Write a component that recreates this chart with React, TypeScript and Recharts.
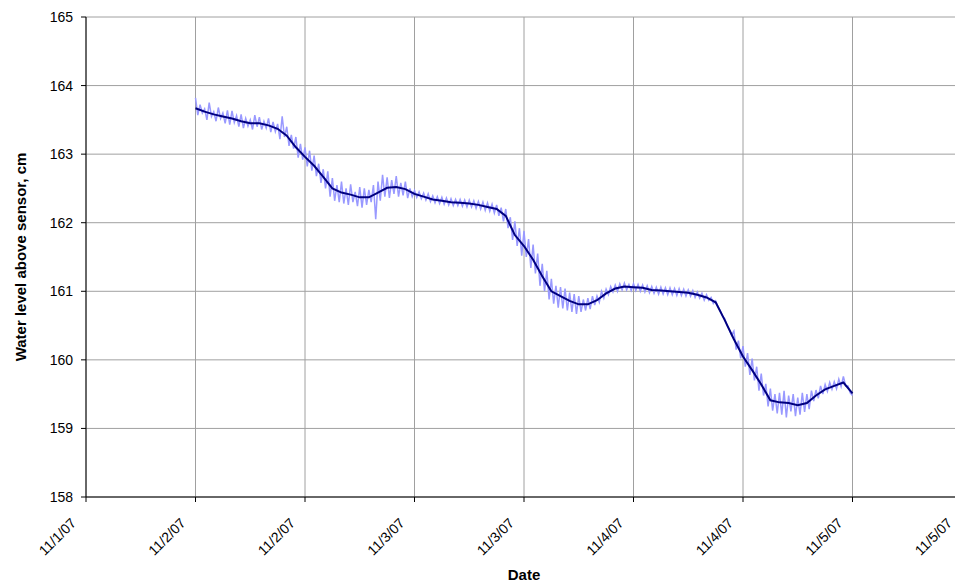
import { CartesianGrid, Line, LineChart, XAxis, YAxis } from "recharts";

// hours since the first axis tick (11/1/07 18:00), every 12 h
const tickHours = [0, 12, 24, 36, 48, 60, 72, 84, 96];
const tickLabels = [
  "11/1/07",
  "11/2/07",
  "11/2/07",
  "11/3/07",
  "11/3/07",
  "11/4/07",
  "11/4/07",
  "11/5/07",
  "11/5/07",
];
const levelTicks = [158, 159, 160, 161, 162, 163, 164, 165];

// smoothed level, hourly from hour 12 to 84
const smoothStart = 12;
const smoothStep = 1;
const smoothLevel = [
  163.67, 163.62, 163.58, 163.55, 163.52, 163.48, 163.45, 163.45, 163.42,
  163.37, 163.27, 163.1, 162.96, 162.83, 162.67, 162.5, 162.44, 162.41, 162.37,
  162.37, 162.44, 162.51, 162.52, 162.49, 162.42, 162.38, 162.34, 162.32,
  162.3, 162.29, 162.28, 162.26, 162.23, 162.2, 162.1, 161.82, 161.66, 161.46,
  161.22, 161.0, 160.93, 160.86, 160.81, 160.81, 160.87, 160.97, 161.04,
  161.07, 161.06, 161.05, 161.02, 161.01, 161.0, 160.99, 160.98, 160.95,
  160.91, 160.84, 160.58, 160.3, 160.05, 159.85, 159.64, 159.41, 159.38,
  159.37, 159.34, 159.37, 159.48, 159.57, 159.62, 159.67, 159.51,
];

// raw sensor readings, every quarter hour from hour 12 to 84 (one row per hour)
const rawStart = 12;
const rawStep = 0.25;
const rawLevel = [
  163.82, 163.57, 163.72, 163.60,
  163.66, 163.50, 163.75, 163.55,
  163.62, 163.48, 163.68, 163.52,
  163.60, 163.45, 163.64, 163.43,
  163.63, 163.46, 163.56, 163.40,
  163.58, 163.38, 163.52, 163.41,
  163.50, 163.36, 163.57, 163.40,
  163.54, 163.36, 163.48, 163.38,
  163.52, 163.32, 163.47, 163.33,
  163.44, 163.22, 163.55, 163.25,
  163.40, 163.12, 163.28, 163.08,
  163.25, 162.95, 163.15, 162.92,
  163.10, 162.82, 163.05, 162.76,
  162.98, 162.68, 162.86, 162.58,
  162.78, 162.50, 162.75, 162.38,
  162.65, 162.32, 162.55, 162.30,
  162.60, 162.28, 162.50, 162.26,
  162.56, 162.30, 162.45, 162.24,
  162.52, 162.22, 162.50, 162.26,
  162.48, 162.30, 162.55, 162.05,
  162.60, 162.32, 162.70, 162.38,
  162.66, 162.36, 162.62, 162.42,
  162.68, 162.38, 162.58, 162.40,
  162.60, 162.36, 162.50, 162.38,
  162.47, 162.37, 162.45, 162.35,
  162.43, 162.33, 162.42, 162.31,
  162.39, 162.29, 162.38, 162.28,
  162.37, 162.27, 162.36, 162.26,
  162.35, 162.25, 162.34, 162.25,
  162.34, 162.24, 162.33, 162.23,
  162.33, 162.23, 162.32, 162.21,
  162.31, 162.20, 162.30, 162.18,
  162.29, 162.17, 162.27, 162.14,
  162.26, 162.10, 162.22, 162.02,
  162.20, 161.92, 162.08, 161.75,
  162.02, 161.66, 161.92, 161.52,
  161.88, 161.50, 161.76, 161.34,
  161.68, 161.26, 161.55, 161.08,
  161.40, 161.00, 161.30, 160.88,
  161.18, 160.82, 161.08, 160.76,
  161.06, 160.75, 161.04, 160.72,
  160.98, 160.70, 160.96, 160.67,
  160.93, 160.70, 160.88, 160.72,
  160.90, 160.74, 160.93, 160.80,
  160.93, 160.84, 161.00, 160.90,
  161.03, 160.95, 161.07, 160.99,
  161.09, 161.00, 161.11, 161.02,
  161.12, 161.02, 161.10, 161.01,
  161.11, 161.01, 161.10, 161.00,
  161.09, 160.99, 161.08, 160.98,
  161.07, 160.97, 161.06, 160.96,
  161.06, 160.96, 161.05, 160.95,
  161.05, 160.95, 161.04, 160.94,
  161.04, 160.94, 161.03, 160.93,
  161.02, 160.93, 161.01, 160.91,
  160.99, 160.90, 160.97, 160.87,
  160.95, 160.87, 160.91, 160.82,
  160.86, 160.78, 160.72, 160.64,
  160.60, 160.50, 160.44, 160.36,
  160.42, 160.15, 160.28, 160.02,
  160.20, 159.90, 160.10, 159.78,
  160.02, 159.70, 159.90, 159.55,
  159.80, 159.48, 159.65, 159.32,
  159.58, 159.26, 159.50, 159.22,
  159.52, 159.20, 159.55, 159.16,
  159.48, 159.25, 159.50, 159.18,
  159.45, 159.20, 159.52, 159.24,
  159.50, 159.28, 159.55, 159.40,
  159.56, 159.44, 159.62, 159.50,
  159.64, 159.54, 159.67, 159.57,
  159.68, 159.58, 159.72, 159.61,
  159.76, 159.62, 159.62, 159.52,
  159.48,
];

const rawData = rawLevel.map((level, i) => ({ hour: rawStart + i * rawStep, level }));
const smoothData = smoothLevel.map((level, i) => ({
  hour: smoothStart + i * smoothStep,
  level,
}));

const font = "Arial, 'Liberation Sans', sans-serif";

function DateTick(props: any) {
  const { x, y, payload } = props;
  const label = tickLabels[tickHours.indexOf(payload.value)] ?? "";
  return (
    <g transform={`translate(${x - 9},${y + 20})`}>
      <text
        x={0}
        y={0}
        textAnchor="end"
        fill="#000"
        fontSize={14}
        fontFamily={font}
        transform="rotate(-45)"
      >
        {label}
      </text>
    </g>
  );
}

export default function App() {
  return (
    <div
      style={{
        position: "fixed",
        left: 0,
        top: 0,
        width: 955,
        height: 583,
        overflow: "hidden",
        background: "#fff",
      }}
    >
      <LineChart
        width={980}
        height={583}
        margin={{ top: 17, right: 18, left: 0, bottom: 0 }}
        style={{ fontFamily: font }}
      >
        <CartesianGrid stroke="#a0a0a0" strokeWidth={1} />
        <XAxis
          dataKey="hour"
          type="number"
          domain={[0, 96]}
          ticks={tickHours}
          allowDataOverflow
          height={86}
          stroke="#000"
          tickSize={5}
          tick={<DateTick />}
          interval={0}
          label={{
            value: "Date",
            position: "insideBottom",
            offset: 3,
            style: { fontWeight: "bold", fontSize: 15, fill: "#000", fontFamily: font },
          }}
        />
        <YAxis
          type="number"
          domain={[158, 165]}
          ticks={levelTicks}
          width={86}
          stroke="#000"
          tickSize={5}
          tickMargin={8}
          interval={0}
          tick={{ fill: "#000", fontSize: 14, fontFamily: font }}
          label={{
            value: "Water level above sensor, cm",
            angle: -90,
            position: "center",
            dx: -22,
            style: { fontWeight: "bold", fontSize: 15, fill: "#000", fontFamily: font },
          }}
        />
        <Line
          data={rawData}
          dataKey="level"
          stroke="#9999ff"
          strokeWidth={1.5}
          dot={false}
          isAnimationActive={false}
          type="linear"
        />
        <Line
          data={smoothData}
          dataKey="level"
          stroke="#000080"
          strokeWidth={2}
          dot={false}
          isAnimationActive={false}
          type="linear"
        />
      </LineChart>
    </div>
  );
}
